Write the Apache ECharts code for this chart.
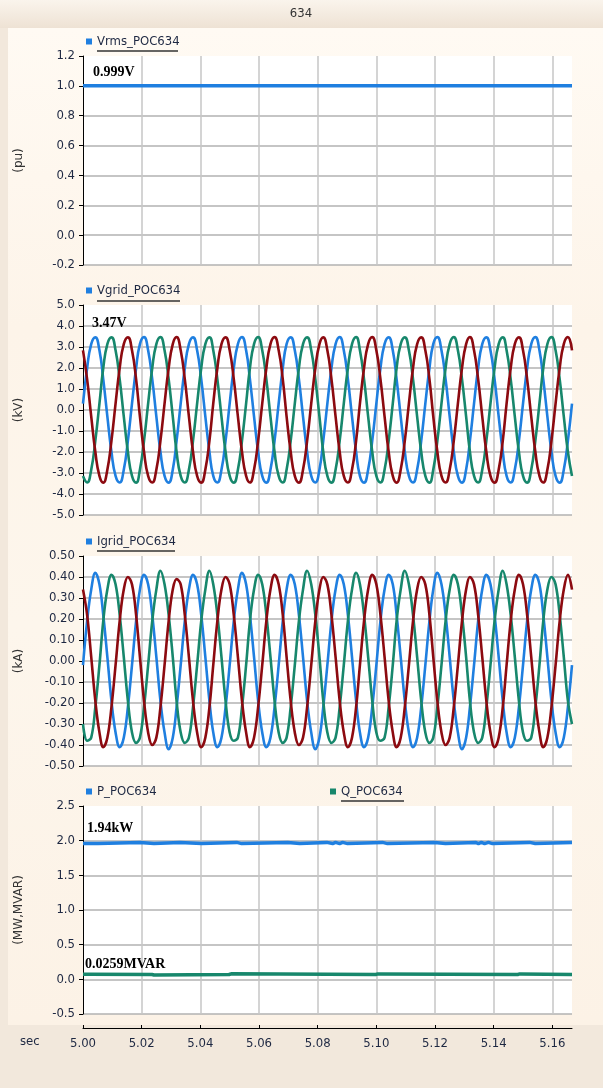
<!DOCTYPE html>
<html><head><meta charset="utf-8">
<script src="https://cdn.jsdelivr.net/npm/echarts@6/dist/echarts.min.js"></script>
<style>
html,body{margin:0;padding:0;background:#f2e8dc;}
#wrap{position:relative;width:603px;height:1088px;overflow:hidden;}
#band{position:absolute;left:0;top:0;width:603px;height:28px;background:linear-gradient(#faf4ec,#eee2d4);}
#panel{position:absolute;left:8px;top:28px;width:595px;height:997px;background:linear-gradient(#fffaf3,#fdf4e9 30%,#fdf6ec 60%,#fcf2e6);}
#c{position:absolute;left:0;top:0;width:603px;height:1088px;}
</style>
</head><body><div id="wrap"><div id="band"></div><div id="panel"></div><div id="c"></div></div>
<script>
// ---------- data ----------
const title = '634';
const xRange = {min: 5.0, max: 5.1667, step: 0.02};
const time = [
5.0000,5.0014,5.0028,5.0042,5.0056,5.0069,5.0083,5.0097,5.0111,5.0125,5.0139,5.0153,
5.0167,5.0181,5.0194,5.0208,5.0222,5.0236,5.0250,5.0264,5.0278,5.0292,5.0306,5.0319,
5.0333,5.0347,5.0361,5.0375,5.0389,5.0403,5.0417,5.0431,5.0444,5.0458,5.0472,5.0486,
5.0500,5.0514,5.0528,5.0542,5.0556,5.0569,5.0583,5.0597,5.0611,5.0625,5.0639,5.0653,
5.0667,5.0681,5.0694,5.0708,5.0722,5.0736,5.0750,5.0764,5.0778,5.0792,5.0806,5.0819,
5.0833,5.0847,5.0861,5.0875,5.0889,5.0903,5.0917,5.0931,5.0944,5.0958,5.0972,5.0986,
5.1000,5.1014,5.1028,5.1042,5.1056,5.1069,5.1083,5.1097,5.1111,5.1125,5.1139,5.1153,
5.1167,5.1181,5.1194,5.1208,5.1222,5.1236,5.1250,5.1264,5.1278,5.1292,5.1306,5.1319,
5.1333,5.1347,5.1361,5.1375,5.1389,5.1403,5.1417,5.1431,5.1444,5.1458,5.1472,5.1486,
5.1500,5.1514,5.1528,5.1542,5.1556,5.1569,5.1583,5.1597,5.1611,5.1625,5.1639,5.1653,
5.1667];

const vrmsT = [5.0, 5.1667];
const vrmsV = [1.0, 1.0];

const vgridA = [
0.30,1.99,3.14,3.46,2.84,1.47,-0.30,-1.99,-3.14,-3.45,-2.84,-1.47,
0.30,1.99,3.14,3.47,2.84,1.47,-0.30,-1.99,-3.14,-3.46,-2.84,-1.47,
0.30,1.99,3.14,3.46,2.84,1.47,-0.30,-1.99,-3.14,-3.45,-2.84,-1.47,
0.30,1.99,3.14,3.47,2.84,1.47,-0.30,-1.99,-3.14,-3.46,-2.84,-1.47,
0.30,1.99,3.14,3.46,2.84,1.47,-0.30,-1.99,-3.14,-3.45,-2.84,-1.47,
0.30,1.99,3.14,3.47,2.84,1.47,-0.30,-1.99,-3.14,-3.46,-2.84,-1.47,
0.30,1.99,3.14,3.46,2.84,1.47,-0.30,-1.99,-3.14,-3.45,-2.84,-1.47,
0.30,1.99,3.14,3.47,2.84,1.47,-0.30,-1.99,-3.14,-3.46,-2.84,-1.47,
0.30,1.99,3.14,3.46,2.84,1.47,-0.30,-1.99,-3.14,-3.45,-2.84,-1.47,
0.30,1.99,3.14,3.47,2.84,1.47,-0.30,-1.99,-3.14,-3.46,-2.84,-1.47,
0.30];
const vgridB = [
2.84,1.47,-0.30,-1.99,-3.14,-3.46,-2.84,-1.47,0.30,1.99,3.14,3.46,
2.84,1.47,-0.30,-1.99,-3.14,-3.45,-2.84,-1.47,0.30,1.99,3.14,3.47,
2.84,1.47,-0.30,-1.99,-3.14,-3.46,-2.84,-1.47,0.30,1.99,3.14,3.46,
2.84,1.47,-0.30,-1.99,-3.14,-3.45,-2.84,-1.47,0.30,1.99,3.14,3.47,
2.84,1.47,-0.30,-1.99,-3.14,-3.46,-2.84,-1.47,0.30,1.99,3.14,3.46,
2.84,1.47,-0.30,-1.99,-3.14,-3.45,-2.84,-1.47,0.30,1.99,3.14,3.47,
2.84,1.47,-0.30,-1.99,-3.14,-3.46,-2.84,-1.47,0.30,1.99,3.14,3.46,
2.84,1.47,-0.30,-1.99,-3.14,-3.45,-2.84,-1.47,0.30,1.99,3.14,3.47,
2.84,1.47,-0.30,-1.99,-3.14,-3.46,-2.84,-1.47,0.30,1.99,3.14,3.46,
2.84,1.47,-0.30,-1.99,-3.14,-3.45,-2.84,-1.47,0.30,1.99,3.14,3.47,
2.84];
const vgridC = [
-3.14,-3.45,-2.84,-1.47,0.30,1.99,3.14,3.46,2.84,1.47,-0.30,-1.99,
-3.14,-3.46,-2.84,-1.47,0.30,1.99,3.14,3.47,2.84,1.47,-0.30,-1.99,
-3.14,-3.45,-2.84,-1.47,0.30,1.99,3.14,3.46,2.84,1.47,-0.30,-1.99,
-3.14,-3.46,-2.84,-1.47,0.30,1.99,3.14,3.47,2.84,1.47,-0.30,-1.99,
-3.14,-3.45,-2.84,-1.47,0.30,1.99,3.14,3.46,2.84,1.47,-0.30,-1.99,
-3.14,-3.46,-2.84,-1.47,0.30,1.99,3.14,3.47,2.84,1.47,-0.30,-1.99,
-3.14,-3.45,-2.84,-1.47,0.30,1.99,3.14,3.46,2.84,1.47,-0.30,-1.99,
-3.14,-3.46,-2.84,-1.47,0.30,1.99,3.14,3.47,2.84,1.47,-0.30,-1.99,
-3.14,-3.45,-2.84,-1.47,0.30,1.99,3.14,3.46,2.84,1.47,-0.30,-1.99,
-3.14,-3.46,-2.84,-1.47,0.30,1.99,3.14,3.47,2.84,1.47,-0.30,-1.99,
-3.14];

const igridA = [
-0.02,0.19,0.34,0.42,0.365,0.22,0.02,-0.19,-0.34,-0.41,-0.365,-0.22,
-0.02,0.19,0.34,0.41,0.365,0.22,0.02,-0.19,-0.34,-0.42,-0.365,-0.22,
-0.02,0.19,0.34,0.41,0.365,0.22,0.02,-0.19,-0.34,-0.41,-0.365,-0.22,
-0.02,0.19,0.34,0.42,0.365,0.22,0.02,-0.19,-0.34,-0.41,-0.365,-0.22,
-0.02,0.19,0.34,0.41,0.365,0.22,0.02,-0.19,-0.34,-0.42,-0.365,-0.22,
-0.02,0.19,0.34,0.41,0.365,0.22,0.02,-0.19,-0.34,-0.41,-0.365,-0.22,
-0.02,0.19,0.34,0.41,0.365,0.22,0.02,-0.19,-0.34,-0.41,-0.365,-0.22,
-0.02,0.19,0.34,0.42,0.365,0.22,0.02,-0.19,-0.34,-0.42,-0.365,-0.22,
-0.02,0.19,0.34,0.41,0.365,0.22,0.02,-0.19,-0.34,-0.41,-0.365,-0.22,
-0.02,0.19,0.34,0.41,0.365,0.22,0.02,-0.19,-0.34,-0.41,-0.365,-0.22,
-0.02];
const igridB = [
0.34,0.22,0.02,-0.19,-0.34,-0.41,-0.365,-0.22,-0.02,0.19,0.34,0.40,
0.365,0.22,0.02,-0.19,-0.34,-0.40,-0.365,-0.22,-0.02,0.19,0.34,0.39,
0.365,0.22,0.02,-0.19,-0.34,-0.41,-0.365,-0.22,-0.02,0.19,0.34,0.40,
0.365,0.22,0.02,-0.19,-0.34,-0.41,-0.365,-0.22,-0.02,0.19,0.34,0.41,
0.365,0.22,0.02,-0.19,-0.34,-0.40,-0.365,-0.22,-0.02,0.19,0.34,0.40,
0.365,0.22,0.02,-0.19,-0.34,-0.41,-0.365,-0.22,-0.02,0.19,0.34,0.41,
0.365,0.22,0.02,-0.19,-0.34,-0.41,-0.365,-0.22,-0.02,0.19,0.34,0.40,
0.365,0.22,0.02,-0.19,-0.34,-0.40,-0.365,-0.22,-0.02,0.19,0.34,0.40,
0.365,0.22,0.02,-0.19,-0.34,-0.41,-0.365,-0.22,-0.02,0.19,0.34,0.41,
0.365,0.22,0.02,-0.19,-0.34,-0.41,-0.365,-0.22,-0.02,0.19,0.34,0.41,
0.34];
const igridC = [
-0.30,-0.38,-0.365,-0.22,-0.02,0.19,0.34,0.41,0.365,0.22,0.02,-0.19,
-0.34,-0.39,-0.365,-0.22,-0.02,0.19,0.34,0.43,0.365,0.22,0.02,-0.19,
-0.34,-0.39,-0.365,-0.22,-0.02,0.19,0.34,0.43,0.365,0.22,0.02,-0.19,
-0.34,-0.38,-0.365,-0.22,-0.02,0.19,0.34,0.41,0.365,0.22,0.02,-0.19,
-0.34,-0.39,-0.365,-0.22,-0.02,0.19,0.34,0.43,0.365,0.22,0.02,-0.19,
-0.34,-0.39,-0.365,-0.22,-0.02,0.19,0.34,0.42,0.365,0.22,0.02,-0.19,
-0.34,-0.38,-0.365,-0.22,-0.02,0.19,0.34,0.43,0.365,0.22,0.02,-0.19,
-0.34,-0.39,-0.365,-0.22,-0.02,0.19,0.34,0.41,0.365,0.22,0.02,-0.19,
-0.34,-0.39,-0.365,-0.22,-0.02,0.19,0.34,0.43,0.365,0.22,0.02,-0.19,
-0.34,-0.38,-0.365,-0.22,-0.02,0.19,0.34,0.40,0.365,0.22,0.02,-0.19,
-0.30];

const pT = [5.0000,5.0051,5.0194,5.0242,5.0330,5.0405,5.0524,5.0541,5.0698,5.0739,5.0831,5.0851,5.0861,5.0875,5.0885,5.0902,5.1021,5.1038,5.1198,5.1236,5.1338,5.1348,5.1358,5.1369,5.1382,5.1396,5.1522,5.1542,5.1667];
const pV = [1.958,1.975,1.958,1.975,1.958,1.975,1.958,1.975,1.958,1.975,1.958,1.975,1.958,1.975,1.958,1.975,1.958,1.975,1.958,1.975,1.958,1.975,1.958,1.975,1.958,1.975,1.958,1.975,1.975];
const qT = [5.0000,5.0020,5.0235,5.0242,5.0498,5.0505,5.0998,5.1005,5.1482,5.1489,5.1667];
const qV = [0.075,0.070,0.062,0.070,0.080,0.070,0.078,0.070,0.078,0.070,0.070];

const panels = [
  {name:'(pu)', min:-0.2, max:1.2, step:0.2, dec:1, legend:['Vrms_POC634'], note:'0.999V'},
  {name:'(kV)', min:-5, max:5, step:1, dec:1, legend:['Vgrid_POC634'], note:'3.47V'},
  {name:'(kA)', min:-0.5, max:0.5, step:0.1, dec:2, legend:['Igrid_POC634'], note:''},
  {name:'(MW,MVAR)', min:-0.5, max:2.5, step:0.5, dec:1, legend:['P_POC634','Q_POC634'], note:'1.94kW'}
];
const qNote = '0.0259MVAR';
const xName = 'sec';

// ---------- chart ----------
const BLUE = '#1f7fe0', RED = '#8c0a10', GREEN = '#17876c';
const LBL = "'DejaVu Sans Condensed','Liberation Sans Narrow',sans-serif";
const TXT = '#1e2842';
const NOTEF = "'Liberation Serif','Times New Roman',serif";
const gridPos = [[56,209],[305,210],[556,210],[806,208]];
const zip = (a,b) => a.map((v,i)=>[v,b[i]]);

const chart = echarts.init(document.getElementById('c'), null, {renderer:'canvas'});
const fix = (v,d) => (Math.abs(v)<1e-9?0:v).toFixed(d);

const grid = gridPos.map(g => ({left:83, right:31, top:g[0], height:g[1], show:true, backgroundColor:'#ffffff', borderWidth:0}));
const xAxis = gridPos.map((g,i) => {
  const last = i === 3;
  return {type:'value', gridIndex:i, min:xRange.min, max:xRange.max, interval:xRange.step,
    offset: last ? 14 : 0,
    axisLine:{show:last, onZero:false, lineStyle:{color:'#000', width:1}},
    axisTick:{show:last, inside:true, length:3, lineStyle:{color:'#000'}},
    axisLabel:{show:last, formatter:v=>fix(v,2), showMaxLabel:false, margin:9, fontSize:13, color:TXT, fontFamily:LBL},
    splitLine:{show:true, showMinLine:false, showMaxLine:false, lineStyle:{color:'#c6c6c6', width:1.5}}};
});
const yAxis = panels.map((p,i) => ({type:'value', gridIndex:i, min:p.min, max:p.max, interval:p.step,
  name:p.name, nameLocation:'middle', nameGap:58,
  nameTextStyle:{fontSize:12, color:'#333', fontFamily:"'DejaVu Sans',sans-serif"},
  axisLine:{show:true, onZero:false, lineStyle:{color:'#000', width:1}},
  axisTick:{show:true, length:4, lineStyle:{color:'#000'}},
  axisLabel:{formatter:v=>fix(v,p.dec), margin:8, fontSize:13, color:TXT, fontFamily:LBL},
  splitLine:{show:true, showMaxLine:false, lineStyle:{color:'#b2b2b2', width:1.5}}}));

const legBase = {icon:'rect', itemWidth:6, itemHeight:6, padding:0, selectedMode:false,
  textStyle:{fontSize:13, color:TXT, fontFamily:LBL}};
const legend = [
  Object.assign({data:[panels[0].legend[0]], left:86, top:35}, legBase),
  Object.assign({data:[panels[1].legend[0]], left:86, top:284}, legBase),
  Object.assign({data:[panels[2].legend[0]], left:86, top:535}, legBase),
  Object.assign({data:[panels[3].legend[0]], left:86, top:785}, legBase),
  Object.assign({data:[panels[3].legend[1]], left:330, top:785}, legBase)
];

const wave = (name, xi, data, color, w, s) => ({type:'line', name, xAxisIndex:xi, yAxisIndex:xi, data,
  showSymbol:false, smooth:s, lineStyle:{color, width:w}, itemStyle:{color}, emphasis:{disabled:true}});
const stepLine = (name, xi, data, color, w) => ({type:'line', name, xAxisIndex:xi, yAxisIndex:xi, data,
  showSymbol:false, step:'end', lineStyle:{color, width:w}, itemStyle:{color}, emphasis:{disabled:true}});

const series = [
  stepLine(panels[0].legend[0], 0, zip(vrmsT, vrmsV), BLUE, 3.5),
  wave(panels[1].legend[0], 1, zip(time, vgridA), BLUE, 2.6, 0.5),
  wave('Vgrid_C', 1, zip(time, vgridC), GREEN, 2.6, 0.5),
  wave('Vgrid_B', 1, zip(time, vgridB), RED, 2.6, 0.5),
  wave(panels[2].legend[0], 2, zip(time, igridA), BLUE, 2.6, 0.4),
  wave('Igrid_C', 2, zip(time, igridC), GREEN, 2.6, 0.4),
  wave('Igrid_B', 2, zip(time, igridB), RED, 2.6, 0.4),
  stepLine(panels[3].legend[0], 3, zip(pT, pV), BLUE, 3.5),
  stepLine(panels[3].legend[1], 3, zip(qT, qV), GREEN, 3.5)
];

const underline = (x1, x2, y) => ({type:'line', shape:{x1, y1:y, x2, y2:y}, style:{stroke:'#333', lineWidth:1.5}, z:50, silent:true});
const note = (text, x, y) => ({type:'text', x, y, style:{text, fill:'#000', font:"bold 14px "+NOTEF, textVerticalAlign:'middle'}, z:50, silent:true});

const graphic = [
  {type:'text', x:301, y:14, style:{text:title, fill:'#333', font:"13px "+LBL, textAlign:'center', textVerticalAlign:'middle'}, silent:true},
  {type:'text', x:20, y:1042, style:{text:xName, fill:TXT, font:"13px "+LBL, textVerticalAlign:'middle'}, silent:true},
  underline(97, 178, 51),
  underline(97, 180, 301),
  underline(97, 175, 551),
  underline(341, 404, 801),
  note(panels[0].note, 93, 72),
  note(panels[1].note, 92, 323),
  note(panels[3].note, 87, 828),
  note(qNote, 85, 964)
];

chart.setOption({animation:false, backgroundColor:'transparent', grid, xAxis, yAxis, legend, series, graphic});
</script></body></html>
